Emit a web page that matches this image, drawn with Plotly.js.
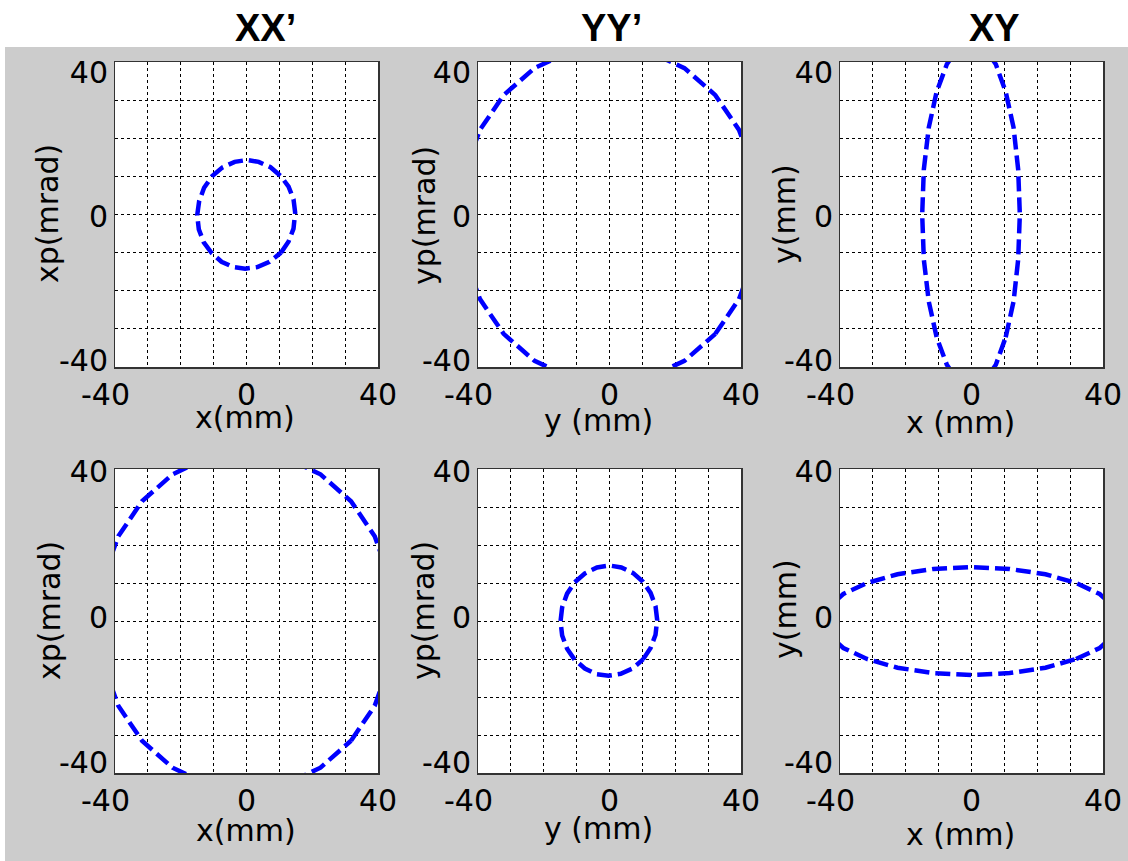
<!DOCTYPE html>
<html><head><meta charset="utf-8">
<script src="https://cdn.plot.ly/plotly-3.0.1.min.js"></script>
<style>html,body{margin:0;padding:0;background:#fff;} #chart{width:1128px;height:861px;}</style>
</head><body><div id="chart"></div>
<script>
// ---- data ----
const gridVals = [-40, -30, -20, -10, 0, 10, 20, 30, 40];
const xTickText = ['-40\u00a0\u00a0', '', '', '', '0', '', '', '', '40'];
const yLabelVals = [-40, 0, 40];
const yLabelText = ['-40', '0', '40'];
const panelTitles = ['XX’', 'YY’', 'XY'];
const xLabels = ['x(mm)', 'y (mm)', 'x (mm)', 'x(mm)', 'y (mm)', 'x (mm)'];
const yLabels = ['xp(mrad)', 'yp(mrad)', 'y(mm)', 'xp(mrad)', 'yp(mrad)', 'y(mm)'];

// top row, XX'
const p1x = [10.5, 12.8, 14.3, 14.8, 14.3, 12.8, 10.4, 7.3, 3.7, 0.2, -3.6, -7.4, -10.5, -12.9, -14.4, -15.0, -14.5, -13.0, -10.6, -7.6, -4.0, -0.4, 3.3, 7.0, 10.5];
const p1y = [-10.0, -7.1, -3.7, 0.5, 4.0, 7.3, 10.1, 12.4, 13.8, 14.3, 13.8, 12.3, 10.0, 7.0, 3.5, -0.2, -3.9, -7.3, -10.1, -12.4, -13.8, -14.2, -13.8, -12.4, -10.0];
// top row, YY'
const p2x = [32.2, 39.4, 44.0, 45.5, 44.0, 39.4, 32.2, 22.8, 11.8, 0.0, -11.8, -22.8, -32.2, -39.4, -44.0, -45.5, -44.0, -39.4, -32.2, -22.8, -11.8, 0.0, 11.8, 22.8, 32.2];
const p2y = [-31.3, -22.2, -11.5, 0.0, 11.5, 22.2, 31.3, 38.4, 42.8, 44.3, 42.8, 38.4, 31.3, 22.2, 11.5, 0.0, -11.5, -22.2, -31.3, -38.4, -42.8, -44.3, -42.8, -38.4, -31.3];
// top row, XY
const p3x = [10.4, 12.8, 14.2, 14.7, 14.2, 12.8, 10.4, 7.4, 3.8, 0.0, -3.9, -7.5, -10.6, -13.0, -14.5, -15.0, -14.5, -13.0, -10.6, -7.5, -3.9, 0.0, 3.8, 7.4, 10.4];
const p3y = [-32.2, -22.8, -11.8, 0.0, 11.8, 22.8, 32.2, 39.4, 44.0, 45.5, 44.0, 39.4, 32.2, 22.8, 11.8, 0.0, -11.8, -22.8, -32.2, -39.4, -44.0, -45.5, -44.0, -39.4, -32.2];
// bottom row, XX'
const p4x = [31.8, 39.0, 43.5, 45.0, 43.5, 39.0, 31.8, 22.5, 11.6, 0.0, -11.6, -22.5, -31.8, -39.0, -43.5, -45.0, -43.5, -39.0, -31.8, -22.5, -11.6, 0.0, 11.6, 22.5, 31.8];
const p4y = [-31.5, -22.3, -11.5, 0.0, 11.5, 22.3, 31.5, 38.6, 43.1, 44.6, 43.1, 38.6, 31.5, 22.3, 11.5, 0.0, -11.5, -22.3, -31.5, -38.6, -43.1, -44.6, -43.1, -38.6, -31.5];
// bottom row, YY'
const p5x = [10.2, 12.5, 14.0, 14.5, 14.0, 12.5, 10.2, 7.2, 3.6, 0.1, -3.8, -7.5, -10.6, -12.9, -14.4, -14.9, -14.4, -12.9, -10.6, -7.5, -3.9, -0.3, 3.4, 7.0, 10.2];
const p5y = [-10.1, -7.1, -3.6, 0.3, 3.9, 7.4, 10.3, 12.6, 14.1, 14.6, 14.1, 12.5, 10.2, 7.2, 3.6, -0.1, -3.8, -7.3, -10.2, -12.5, -14.0, -14.4, -13.9, -12.5, -10.1];
// bottom row, XY
const p6x = [31.8, 39.0, 43.5, 45.0, 43.5, 39.0, 31.8, 22.5, 11.6, 0.0, -11.6, -22.5, -31.8, -39.0, -43.5, -45.0, -43.5, -39.0, -31.8, -22.5, -11.6, 0.0, 11.6, 22.5, 31.8];
const p6y = [-10.0, -7.1, -3.7, 0.0, 3.7, 7.1, 10.0, 12.3, 13.7, 14.2, 13.7, 12.3, 10.0, 7.1, 3.7, 0.0, -3.7, -7.1, -10.0, -12.3, -13.7, -14.2, -13.7, -12.3, -10.0];

const curves = [[p1x, p1y], [p2x, p2y], [p3x, p3y], [p4x, p4y], [p5x, p5y], [p6x, p6y]];

// ---- layout geometry (pixels in a 1128x861 page) ----
const W = 1128, H = 861;
const cols = [[115, 378], [478, 741], [840, 1103]];
const rows = [[62, 367], [469, 773]];
// label axis ranges per row (tick labels sit slightly inside the frame in the reference)
const labelRanges = [[-41.9, 42.8], [-42.9, 40.7]];
const titlePos = [[265, 28], [611, 28], [994, 28]];
const yTitlePos = [[48, 214], [425, 216], [785, 214], [49, 611], [423, 611], [785, 609]];
const xTitlePos = [[245, 417], [598, 420], [960, 423], [246, 830], [598, 828], [960, 834]];

const px = v => v / W;
const py = v => 1 - v / H;

const tickFont = {family: 'DejaVu Sans', size: 30, color: '#000'};
const titleFont = {family: 'DejaVu Sans', size: 30, color: '#000'};
function axisBase() {
  return {
    range: [-40, 40], autorange: false, fixedrange: true,
    tickmode: 'array', tickvals: gridVals,
    showgrid: true, gridcolor: '#000', griddash: 'dot', gridwidth: 1,
    zeroline: false, showline: true, linecolor: '#333', linewidth: 1.5, mirror: true,
    ticks: '', tickfont: tickFont, automargin: false
  };
}

const traces = [];
const layout = {
  width: W, height: H,
  margin: {l: 0, r: 0, t: 0, b: 0},
  paper_bgcolor: '#cccccc', plot_bgcolor: '#ffffff',
  showlegend: false,
  shapes: [
    {type: 'rect', xref: 'paper', yref: 'paper', x0: 0, x1: 1, y0: py(47), y1: 1, fillcolor: '#ffffff', line: {width: 0}, layer: 'below'},
    {type: 'rect', xref: 'paper', yref: 'paper', x0: 0, x1: px(5), y0: 0, y1: 1, fillcolor: '#ffffff', line: {width: 0}, layer: 'below'}
  ],
  annotations: []
};

for (let i = 0; i < 6; i++) {
  const r = Math.floor(i / 3), c = i % 3;
  const sfx = i === 0 ? '' : String(i + 1);
  const lab = String(i + 7);
  const xa = axisBase();
  xa.domain = [px(cols[c][0]), px(cols[c][1])];
  xa.anchor = 'y' + sfx;
  xa.ticktext = xTickText;
  const ya = axisBase();
  ya.domain = [py(rows[r][1]), py(rows[r][0])];
  ya.anchor = 'x' + sfx;
  ya.showticklabels = false;
  layout['xaxis' + sfx] = xa;
  layout['yaxis' + sfx] = ya;
  // overlay axis carrying only the y tick labels
  layout['yaxis' + lab] = {
    overlaying: 'y' + sfx, anchor: 'x' + sfx, side: 'left',
    range: labelRanges[r], autorange: false, fixedrange: true,
    tickmode: 'array', tickvals: yLabelVals, ticktext: yLabelText,
    showgrid: false, zeroline: false, showline: false, ticks: '',
    tickfont: tickFont, ticklabelstandoff: 6, automargin: false
  };
  traces.push({
    type: 'scatter', mode: 'lines',
    x: curves[i][0], y: curves[i][1],
    xaxis: 'x' + sfx, yaxis: 'y' + sfx,
    line: {color: '#0000ff', width: 4.5, dash: '15px,6px'},
    hoverinfo: 'skip'
  });
  // invisible helper so the label axis is drawn
  traces.push({
    type: 'scatter', mode: 'none',
    x: [0, 0, 0], y: yLabelVals,
    xaxis: 'x' + sfx, yaxis: 'y' + lab,
    hoverinfo: 'skip'
  });
  layout.annotations.push({
    xref: 'paper', yref: 'paper', x: px(xTitlePos[i][0]), y: py(xTitlePos[i][1]),
    xanchor: 'center', yanchor: 'middle', showarrow: false,
    text: xLabels[i], font: titleFont
  });
  layout.annotations.push({
    xref: 'paper', yref: 'paper', x: px(yTitlePos[i][0]), y: py(yTitlePos[i][1]),
    xanchor: 'center', yanchor: 'middle', showarrow: false, textangle: -90,
    text: yLabels[i], font: titleFont
  });
}
for (let c = 0; c < 3; c++) {
  layout.annotations.push({
    xref: 'paper', yref: 'paper', x: px(titlePos[c][0]), y: py(titlePos[c][1]),
    xanchor: 'center', yanchor: 'middle', showarrow: false,
    text: '<b>' + panelTitles[c] + '</b>',
    font: {family: 'Liberation Sans', size: 38, color: '#000'}
  });
}

Plotly.newPlot('chart', traces, layout, {staticPlot: true, displayModeBar: false});
</script></body></html>
